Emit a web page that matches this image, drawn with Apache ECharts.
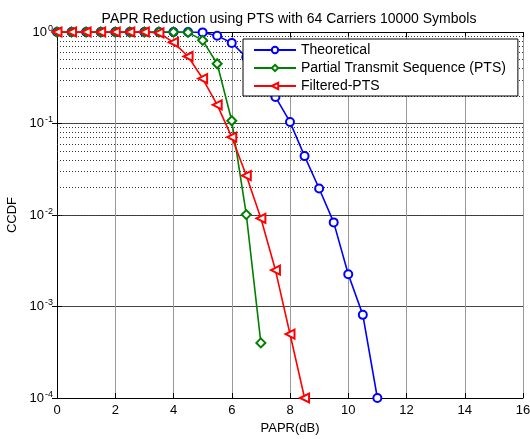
<!DOCTYPE html>
<html>
<head>
  <meta charset="utf-8"/>
  <title>PAPR Reduction using PTS</title>
  <script src="https://cdn.jsdelivr.net/npm/echarts@6/dist/echarts.min.js"></script>
  <style>
    html, body { margin: 0; padding: 0; background: #fff; }
    #chart { width: 530px; height: 439px; }
  </style>
</head>
<body>
<div id="chart"></div>
<script>
  // PAPR (dB) sample points, step 0.5
  var paprTheory = [0, 0.5, 1, 1.5, 2, 2.5, 3, 3.5, 4, 4.5, 5, 5.5, 6, 6.5, 7, 7.5, 8, 8.5, 9, 9.5, 10, 10.5, 11];
  var ccdfTheory = [1, 1, 1, 1, 1, 1, 1, 1, 1, 1, 0.99, 0.91, 0.76, 0.53, 0.34, 0.195, 0.104, 0.044, 0.0195, 0.0083, 0.00225, 0.00081, 0.0001];

  var paprPts = [0, 0.5, 1, 1.5, 2, 2.5, 3, 3.5, 4, 4.5, 5, 5.5, 6, 6.5, 7];
  var ccdfPts = [1, 1, 1, 1, 1, 1, 1, 1, 1, 0.99, 0.81, 0.45, 0.107, 0.0101, 0.0004];

  var paprFilt = [0, 0.5, 1, 1.5, 2, 2.5, 3, 3.5, 4, 4.5, 5, 5.5, 6, 6.5, 7, 7.5, 8, 8.5];
  var ccdfFilt = [1, 1, 1, 1, 1, 1, 1, 0.98, 0.77, 0.54, 0.31, 0.16, 0.071, 0.027, 0.0092, 0.0025, 0.0005, 0.0001];

  // dotted minor grid at 2..9 of every decade
  var minorLevels = [];
  [1e-4, 1e-3, 1e-2, 1e-1].forEach(function (d) {
    for (var k = 2; k <= 9; k++) minorLevels.push(d * k);
  });

  function pairs(xs, ys) {
    var out = [];
    for (var i = 0; i < xs.length; i++) out.push([xs[i], ys[i]]);
    return out;
  }

  var font = 'Arial, "Liberation Sans", sans-serif';
  var chart = echarts.init(document.getElementById('chart'));

  var option = {
    animation: false,
    backgroundColor: '#fff',
    textStyle: { fontFamily: font, color: '#000' },
    title: {
      text: 'PAPR Reduction using PTS with 64 Carriers 10000 Symbols',
      left: 284, top: 7, textAlign: 'center',
      textStyle: { fontSize: 14, fontWeight: 'normal', fontFamily: font, color: '#000' }
    },
    legend: {
      orient: 'vertical',
      left: 243, top: 39,
      z: 20,
      padding: [4, 12, 3, 10],
      itemGap: 4,
      itemWidth: 42, itemHeight: 8,
      borderColor: '#000', borderWidth: 1,
      backgroundColor: '#fff',
      textStyle: { fontSize: 14, lineHeight: 14, fontFamily: font, color: '#000' },
      data: ['Theoretical', 'Partial Transmit Sequence (PTS)', 'Filtered-PTS']
    },
    grid: { left: 57, right: 7, top: 32, bottom: 41, containLabel: false, outerBoundsMode: 'none' },
    xAxis: [{
      type: 'value', min: 0, max: 16, interval: 2,
      name: 'PAPR(dB)', nameLocation: 'middle', nameGap: 22,
      nameTextStyle: { fontSize: 13, fontFamily: font, color: '#000' },
      axisLine: { lineStyle: { color: '#000', width: 1 } },
      axisTick: { inside: true, length: 5, lineStyle: { color: '#000' } },
      axisLabel: { fontSize: 13, color: '#000', margin: 6 },
      splitLine: { show: true, lineStyle: { color: '#999', width: 1 } }
    }, {
      type: 'value', min: 0, max: 16, interval: 2, position: 'top',
      axisLine: { show: true, lineStyle: { color: '#000', width: 1 } },
      axisTick: { inside: true, length: 5, lineStyle: { color: '#000' } },
      axisLabel: { show: false },
      splitLine: { show: false }
    }],
    yAxis: [{
      type: 'log', logBase: 10, min: 1e-4, max: 1,
      name: 'CCDF', nameLocation: 'middle', nameGap: 26, nameRotate: 90,
      nameTextStyle: { fontSize: 13, fontFamily: font, color: '#000' },
      axisLine: { show: true, lineStyle: { color: '#000', width: 1 } },
      axisTick: { inside: true, length: 5, lineStyle: { color: '#000' } },
      axisLabel: {
        margin: 4,
        formatter: function (v) {
          var e = Math.round(Math.log10(v));
          return '{b|10}{s|' + e + '}';
        },
        rich: {
          b: { fontSize: 13, fontFamily: font, color: '#000', padding: [0, 1, 0, 0] },
          s: { fontSize: 9, fontFamily: font, color: '#000', padding: [0, 0, 7, 0] }
        }
      },
      splitLine: { show: true, lineStyle: { color: '#444', width: 1 } }
    }, {
      type: 'log', logBase: 10, min: 1e-4, max: 1, position: 'right',
      axisLine: { show: true, lineStyle: { color: '#000', width: 1 } },
      axisTick: { inside: true, length: 5, lineStyle: { color: '#000' } },
      axisLabel: { show: false },
      splitLine: { show: false }
    }],
    series: [{
      name: 'minor',
      type: 'line',
      data: [],
      silent: true,
      z: 1,
      markLine: {
        silent: true,
        z: 1,
        symbol: ['none', 'none'],
        label: { show: false },
        lineStyle: { color: '#333', type: [1, 2], width: 1 },
        data: minorLevels.map(function (v) { return { yAxis: v }; })
      }
    }, {
      name: 'Theoretical',
      type: 'line',
      data: pairs(paprTheory, ccdfTheory),
      color: '#0000ff',
      symbol: 'emptyCircle', symbolSize: 8,
      lineStyle: { width: 1.6 },
      itemStyle: { borderWidth: 1.5 },
      z: 3
    }, {
      name: 'Partial Transmit Sequence (PTS)',
      type: 'line',
      data: pairs(paprPts, ccdfPts),
      color: '#008000',
      symbol: 'emptyDiamond', symbolSize: 9,
      lineStyle: { width: 1.6 },
      itemStyle: { borderWidth: 1.5 },
      z: 4
    }, {
      name: 'Filtered-PTS',
      type: 'line',
      data: pairs(paprFilt, ccdfFilt),
      color: '#ff0000',
      symbol: 'emptyTriangle', symbolSize: 9, symbolRotate: 90,
      lineStyle: { width: 1.6 },
      itemStyle: { borderWidth: 1.5 },
      z: 5
    }]
  };

  chart.setOption(option);
</script>
</body>
</html>
